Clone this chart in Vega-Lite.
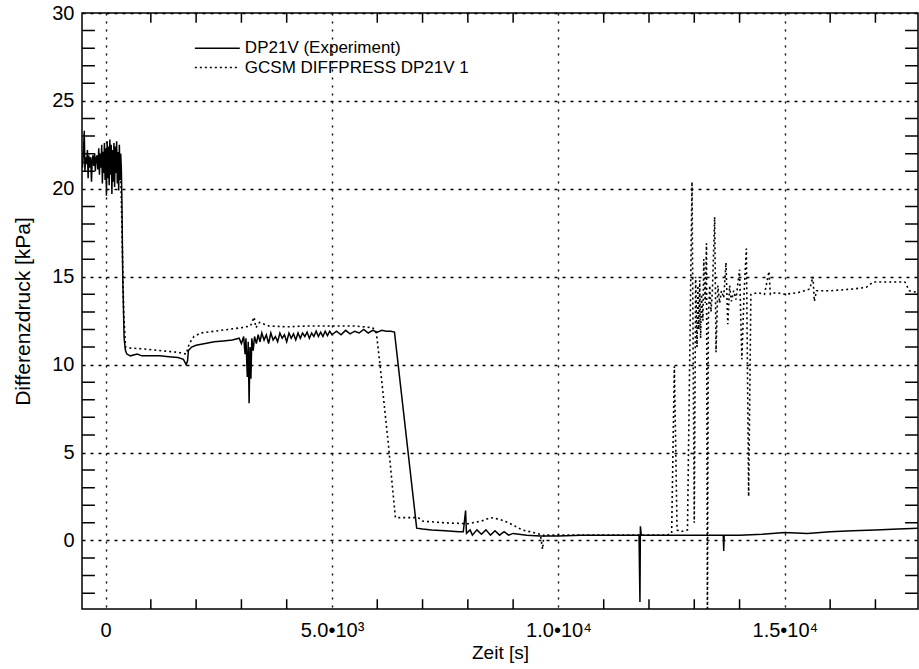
{
  "$schema": "https://vega.github.io/schema/vega-lite/v6.json",
  "width": 836,
  "height": 596,
  "autosize": {"type": "none"},
  "padding": {"left": 82, "top": 13, "right": 1, "bottom": 60},
  "background": "white",
  "config": {
    "view": {"stroke": "black", "strokeWidth": 1.5},
    "font": "Liberation Sans",
    "axis": {"labelColor": "black", "titleColor": "black", "titleFontWeight": "normal", "labelFlush": false, "labelOverlap": false, "domain": false}
  },
  "datasets": {
    "exp": [
      {"t": -510, "v": 21.2}, {"t": -490, "v": 22.0}, {"t": -470, "v": 23.3}, {"t": -455, "v": 21.0}, {"t": -440, "v": 21.8},
      {"t": -420, "v": 21.4}, {"t": -400, "v": 22.2}, {"t": -385, "v": 20.6}, {"t": -370, "v": 21.9}, {"t": -350, "v": 21.2},
      {"t": -330, "v": 21.8}, {"t": -310, "v": 20.4}, {"t": -295, "v": 21.6}, {"t": -280, "v": 21.9}, {"t": -260, "v": 21.3},
      {"t": -240, "v": 22.0}, {"t": -225, "v": 21.0}, {"t": -210, "v": 21.7}, {"t": -190, "v": 21.9}, {"t": -170, "v": 21.1},
      {"t": -150, "v": 22.3}, {"t": -135, "v": 20.8}, {"t": -120, "v": 22.0}, {"t": -100, "v": 21.2}, {"t": -85, "v": 22.5},
      {"t": -70, "v": 20.3}, {"t": -55, "v": 22.1}, {"t": -40, "v": 20.9}, {"t": -25, "v": 22.6}, {"t": -10, "v": 20.5},
      {"t": 5, "v": 22.3}, {"t": 20, "v": 19.6}, {"t": 35, "v": 22.7}, {"t": 50, "v": 20.6}, {"t": 65, "v": 22.4},
      {"t": 80, "v": 20.2}, {"t": 95, "v": 22.8}, {"t": 110, "v": 20.8}, {"t": 125, "v": 22.5}, {"t": 140, "v": 19.7},
      {"t": 155, "v": 22.2}, {"t": 170, "v": 20.4}, {"t": 185, "v": 22.6}, {"t": 200, "v": 20.1}, {"t": 215, "v": 22.4},
      {"t": 230, "v": 20.9}, {"t": 245, "v": 22.7}, {"t": 260, "v": 20.3}, {"t": 275, "v": 22.1}, {"t": 290, "v": 19.9},
      {"t": 305, "v": 22.5}, {"t": 320, "v": 20.5}, {"t": 335, "v": 22.0}, {"t": 350, "v": 21.0}, {"t": 360, "v": 19.5},
      {"t": 380, "v": 15.0}, {"t": 410, "v": 11.5}, {"t": 440, "v": 10.8}, {"t": 470, "v": 10.6}, {"t": 550, "v": 10.5},
      {"t": 700, "v": 10.6}, {"t": 800, "v": 10.5}, {"t": 1000, "v": 10.5}, {"t": 1200, "v": 10.5}, {"t": 1400, "v": 10.45},
      {"t": 1600, "v": 10.4}, {"t": 1720, "v": 10.3}, {"t": 1780, "v": 10.0}, {"t": 1810, "v": 10.2}, {"t": 1830, "v": 10.8},
      {"t": 1900, "v": 11.0}, {"t": 2000, "v": 11.1}, {"t": 2200, "v": 11.2}, {"t": 2400, "v": 11.3}, {"t": 2600, "v": 11.35},
      {"t": 2800, "v": 11.4}, {"t": 2950, "v": 11.5}, {"t": 3000, "v": 11.2}, {"t": 3050, "v": 11.6}, {"t": 3080, "v": 10.6},
      {"t": 3100, "v": 11.5}, {"t": 3130, "v": 9.3}, {"t": 3150, "v": 11.3}, {"t": 3170, "v": 7.8}, {"t": 3190, "v": 11.0},
      {"t": 3210, "v": 9.2}, {"t": 3230, "v": 11.5}, {"t": 3260, "v": 10.8}, {"t": 3290, "v": 11.6}, {"t": 3330, "v": 11.2},
      {"t": 3370, "v": 11.7}, {"t": 3410, "v": 11.3}, {"t": 3450, "v": 11.8}, {"t": 3500, "v": 11.4}, {"t": 3550, "v": 11.7},
      {"t": 3600, "v": 11.2}, {"t": 3650, "v": 11.8}, {"t": 3700, "v": 11.4}, {"t": 3750, "v": 11.6}, {"t": 3800, "v": 11.3},
      {"t": 3850, "v": 11.8}, {"t": 3900, "v": 11.5}, {"t": 3950, "v": 11.7}, {"t": 4000, "v": 11.3}, {"t": 4050, "v": 11.8},
      {"t": 4100, "v": 11.5}, {"t": 4150, "v": 11.75}, {"t": 4200, "v": 11.4}, {"t": 4250, "v": 11.8}, {"t": 4300, "v": 11.5},
      {"t": 4350, "v": 11.8}, {"t": 4400, "v": 11.6}, {"t": 4450, "v": 11.85}, {"t": 4500, "v": 11.5}, {"t": 4550, "v": 11.8},
      {"t": 4600, "v": 11.6}, {"t": 4650, "v": 11.9}, {"t": 4700, "v": 11.6}, {"t": 4750, "v": 11.85}, {"t": 4800, "v": 11.6},
      {"t": 4850, "v": 11.9}, {"t": 4900, "v": 11.65}, {"t": 4950, "v": 11.9}, {"t": 5000, "v": 11.7}, {"t": 5100, "v": 11.9},
      {"t": 5200, "v": 11.7}, {"t": 5300, "v": 11.95}, {"t": 5400, "v": 11.75}, {"t": 5500, "v": 11.9}, {"t": 5600, "v": 11.8},
      {"t": 5700, "v": 12.0}, {"t": 5800, "v": 11.8}, {"t": 5900, "v": 11.95}, {"t": 6000, "v": 11.85}, {"t": 6100, "v": 11.95},
      {"t": 6200, "v": 11.9}, {"t": 6300, "v": 11.9}, {"t": 6380, "v": 11.85}, {"t": 6870, "v": 0.7}, {"t": 7000, "v": 0.65},
      {"t": 7200, "v": 0.6}, {"t": 7500, "v": 0.55}, {"t": 7800, "v": 0.5}, {"t": 7900, "v": 0.5}, {"t": 7950, "v": 1.7},
      {"t": 7970, "v": 0.4}, {"t": 8050, "v": 0.6}, {"t": 8100, "v": 0.3}, {"t": 8200, "v": 0.6}, {"t": 8300, "v": 0.35},
      {"t": 8400, "v": 0.6}, {"t": 8500, "v": 0.3}, {"t": 8600, "v": 0.55}, {"t": 8700, "v": 0.3}, {"t": 8800, "v": 0.5},
      {"t": 8900, "v": 0.3}, {"t": 9000, "v": 0.4}, {"t": 9300, "v": 0.3}, {"t": 9600, "v": 0.25}, {"t": 10000, "v": 0.25},
      {"t": 10500, "v": 0.3}, {"t": 11000, "v": 0.3}, {"t": 11500, "v": 0.3}, {"t": 11780, "v": 0.3}, {"t": 11800, "v": -3.5},
      {"t": 11810, "v": 0.8}, {"t": 11830, "v": 0.3}, {"t": 12500, "v": 0.3}, {"t": 13000, "v": 0.3}, {"t": 13640, "v": 0.3},
      {"t": 13650, "v": -0.6}, {"t": 13660, "v": 0.3}, {"t": 14000, "v": 0.3}, {"t": 14500, "v": 0.35}, {"t": 15000, "v": 0.45},
      {"t": 15500, "v": 0.4}, {"t": 16000, "v": 0.5}, {"t": 16500, "v": 0.55}, {"t": 17000, "v": 0.6}, {"t": 17500, "v": 0.65},
      {"t": 17940, "v": 0.7}
    ],
    "sim": [
      {"t": -510, "v": 21.5}, {"t": 330, "v": 21.4}, {"t": 360, "v": 18.0}, {"t": 400, "v": 13.0}, {"t": 440, "v": 11.0},
      {"t": 500, "v": 10.95}, {"t": 800, "v": 10.9}, {"t": 1200, "v": 10.8}, {"t": 1600, "v": 10.7}, {"t": 1780, "v": 10.6},
      {"t": 1850, "v": 11.2}, {"t": 1950, "v": 11.6}, {"t": 2100, "v": 11.8}, {"t": 2400, "v": 11.9}, {"t": 2700, "v": 12.0},
      {"t": 3000, "v": 12.1}, {"t": 3200, "v": 12.2}, {"t": 3280, "v": 12.7}, {"t": 3320, "v": 12.1}, {"t": 3400, "v": 12.4},
      {"t": 3600, "v": 12.2}, {"t": 4000, "v": 12.15}, {"t": 4500, "v": 12.2}, {"t": 5000, "v": 12.2}, {"t": 5500, "v": 12.2},
      {"t": 5900, "v": 12.1}, {"t": 5980, "v": 11.8}, {"t": 6060, "v": 10.0}, {"t": 6240, "v": 5.6}, {"t": 6400, "v": 1.3},
      {"t": 6900, "v": 1.3}, {"t": 7000, "v": 1.1}, {"t": 7500, "v": 1.0}, {"t": 8000, "v": 0.95}, {"t": 8300, "v": 1.1},
      {"t": 8500, "v": 1.3}, {"t": 8700, "v": 1.2}, {"t": 8900, "v": 1.0}, {"t": 9200, "v": 0.6}, {"t": 9600, "v": 0.35},
      {"t": 9650, "v": -0.5}, {"t": 9680, "v": 0.3}, {"t": 10000, "v": 0.3}, {"t": 11000, "v": 0.3}, {"t": 12000, "v": 0.3},
      {"t": 12400, "v": 0.3}, {"t": 12500, "v": 0.4}, {"t": 12560, "v": 9.9}, {"t": 12620, "v": 0.6}, {"t": 12700, "v": 0.5},
      {"t": 12850, "v": 0.6}, {"t": 12950, "v": 20.4}, {"t": 13000, "v": 1.0}, {"t": 13030, "v": 15.0}, {"t": 13060, "v": 11.0},
      {"t": 13080, "v": 14.5}, {"t": 13100, "v": 12.0}, {"t": 13120, "v": 14.8}, {"t": 13140, "v": 11.5}, {"t": 13160, "v": 14.0},
      {"t": 13190, "v": 12.5}, {"t": 13210, "v": 16.0}, {"t": 13240, "v": 13.5}, {"t": 13270, "v": 16.9}, {"t": 13290, "v": -5.0},
      {"t": 13310, "v": 12.5}, {"t": 13340, "v": 14.5}, {"t": 13370, "v": 13.0}, {"t": 13400, "v": 14.2}, {"t": 13450, "v": 18.4},
      {"t": 13480, "v": 10.7}, {"t": 13520, "v": 14.5}, {"t": 13560, "v": 13.5}, {"t": 13600, "v": 14.2}, {"t": 13650, "v": 13.8},
      {"t": 13700, "v": 15.8}, {"t": 13740, "v": 12.3}, {"t": 13780, "v": 14.5}, {"t": 13820, "v": 13.6}, {"t": 13870, "v": 14.2},
      {"t": 13920, "v": 13.7}, {"t": 14000, "v": 15.4}, {"t": 14050, "v": 10.3}, {"t": 14100, "v": 14.1}, {"t": 14150, "v": 16.6},
      {"t": 14200, "v": 2.5}, {"t": 14250, "v": 14.0}, {"t": 14400, "v": 14.1}, {"t": 14550, "v": 14.0}, {"t": 14650, "v": 15.3},
      {"t": 14680, "v": 14.0}, {"t": 14800, "v": 14.1}, {"t": 15000, "v": 14.0}, {"t": 15300, "v": 14.1}, {"t": 15550, "v": 14.3},
      {"t": 15620, "v": 15.0}, {"t": 15650, "v": 13.6}, {"t": 15700, "v": 14.2}, {"t": 16000, "v": 14.2}, {"t": 16500, "v": 14.3},
      {"t": 16800, "v": 14.4}, {"t": 16950, "v": 14.7}, {"t": 17650, "v": 14.7}, {"t": 17750, "v": 14.2}, {"t": 17940, "v": 14.1}
    ],
    "segs": [
      {"t1": 1972, "t2": 2965, "v": 28.0, "v2": 28.0, "s": "exp"},
      {"t1": 1972, "t2": 2965, "v": 26.9, "v2": 26.9, "s": "sim"},
      {"t1": 1000, "t2": 1000, "v": -3.9, "v2": -3.35, "s": "exp"}, {"t1": 2000, "t2": 2000, "v": -3.9, "v2": -3.35, "s": "exp"},
      {"t1": 3000, "t2": 3000, "v": -3.9, "v2": -3.35, "s": "exp"}, {"t1": 4000, "t2": 4000, "v": -3.9, "v2": -3.35, "s": "exp"},
      {"t1": 6000, "t2": 6000, "v": -3.9, "v2": -3.35, "s": "exp"}, {"t1": 7000, "t2": 7000, "v": -3.9, "v2": -3.35, "s": "exp"},
      {"t1": 8000, "t2": 8000, "v": -3.9, "v2": -3.35, "s": "exp"}, {"t1": 9000, "t2": 9000, "v": -3.9, "v2": -3.35, "s": "exp"},
      {"t1": 11000, "t2": 11000, "v": -3.9, "v2": -3.35, "s": "exp"}, {"t1": 12000, "t2": 12000, "v": -3.9, "v2": -3.35, "s": "exp"},
      {"t1": 13000, "t2": 13000, "v": -3.9, "v2": -3.35, "s": "exp"}, {"t1": 14000, "t2": 14000, "v": -3.9, "v2": -3.35, "s": "exp"},
      {"t1": 16000, "t2": 16000, "v": -3.9, "v2": -3.35, "s": "exp"}, {"t1": 17000, "t2": 17000, "v": -3.9, "v2": -3.35, "s": "exp"},
      {"t1": 1000, "t2": 1000, "v": 30, "v2": 29.45, "s": "exp"}, {"t1": 2000, "t2": 2000, "v": 30, "v2": 29.45, "s": "exp"},
      {"t1": 3000, "t2": 3000, "v": 30, "v2": 29.45, "s": "exp"}, {"t1": 4000, "t2": 4000, "v": 30, "v2": 29.45, "s": "exp"},
      {"t1": 6000, "t2": 6000, "v": 30, "v2": 29.45, "s": "exp"}, {"t1": 7000, "t2": 7000, "v": 30, "v2": 29.45, "s": "exp"},
      {"t1": 8000, "t2": 8000, "v": 30, "v2": 29.45, "s": "exp"}, {"t1": 9000, "t2": 9000, "v": 30, "v2": 29.45, "s": "exp"},
      {"t1": 11000, "t2": 11000, "v": 30, "v2": 29.45, "s": "exp"}, {"t1": 12000, "t2": 12000, "v": 30, "v2": 29.45, "s": "exp"},
      {"t1": 13000, "t2": 13000, "v": 30, "v2": 29.45, "s": "exp"}, {"t1": 14000, "t2": 14000, "v": 30, "v2": 29.45, "s": "exp"},
      {"t1": 16000, "t2": 16000, "v": 30, "v2": 29.45, "s": "exp"}, {"t1": 17000, "t2": 17000, "v": 30, "v2": 29.45, "s": "exp"},
      {"t1": -520, "t2": -235, "v": -3, "v2": -3, "s": "exp"}, {"t1": -520, "t2": -235, "v": -2, "v2": -2, "s": "exp"},
      {"t1": -520, "t2": -235, "v": -1, "v2": -1, "s": "exp"}, {"t1": -520, "t2": -235, "v": 1, "v2": 1, "s": "exp"},
      {"t1": -520, "t2": -235, "v": 2, "v2": 2, "s": "exp"}, {"t1": -520, "t2": -235, "v": 3, "v2": 3, "s": "exp"},
      {"t1": -520, "t2": -235, "v": 4, "v2": 4, "s": "exp"}, {"t1": -520, "t2": -235, "v": 6, "v2": 6, "s": "exp"},
      {"t1": -520, "t2": -235, "v": 7, "v2": 7, "s": "exp"}, {"t1": -520, "t2": -235, "v": 8, "v2": 8, "s": "exp"},
      {"t1": -520, "t2": -235, "v": 9, "v2": 9, "s": "exp"}, {"t1": -520, "t2": -235, "v": 11, "v2": 11, "s": "exp"},
      {"t1": -520, "t2": -235, "v": 12, "v2": 12, "s": "exp"}, {"t1": -520, "t2": -235, "v": 13, "v2": 13, "s": "exp"},
      {"t1": -520, "t2": -235, "v": 14, "v2": 14, "s": "exp"}, {"t1": -520, "t2": -235, "v": 16, "v2": 16, "s": "exp"},
      {"t1": -520, "t2": -235, "v": 17, "v2": 17, "s": "exp"}, {"t1": -520, "t2": -235, "v": 18, "v2": 18, "s": "exp"},
      {"t1": -520, "t2": -235, "v": 19, "v2": 19, "s": "exp"}, {"t1": -520, "t2": -235, "v": 21, "v2": 21, "s": "exp"},
      {"t1": -520, "t2": -235, "v": 22, "v2": 22, "s": "exp"}, {"t1": -520, "t2": -235, "v": 23, "v2": 23, "s": "exp"},
      {"t1": -520, "t2": -235, "v": 24, "v2": 24, "s": "exp"}, {"t1": -520, "t2": -235, "v": 26, "v2": 26, "s": "exp"},
      {"t1": -520, "t2": -235, "v": 27, "v2": 27, "s": "exp"}, {"t1": -520, "t2": -235, "v": 28, "v2": 28, "s": "exp"},
      {"t1": -520, "t2": -235, "v": 29, "v2": 29, "s": "exp"},
      {"t1": 17655, "t2": 17940, "v": -3, "v2": -3, "s": "exp"}, {"t1": 17655, "t2": 17940, "v": -2, "v2": -2, "s": "exp"},
      {"t1": 17655, "t2": 17940, "v": -1, "v2": -1, "s": "exp"}, {"t1": 17655, "t2": 17940, "v": 1, "v2": 1, "s": "exp"},
      {"t1": 17655, "t2": 17940, "v": 2, "v2": 2, "s": "exp"}, {"t1": 17655, "t2": 17940, "v": 3, "v2": 3, "s": "exp"},
      {"t1": 17655, "t2": 17940, "v": 4, "v2": 4, "s": "exp"}, {"t1": 17655, "t2": 17940, "v": 6, "v2": 6, "s": "exp"},
      {"t1": 17655, "t2": 17940, "v": 7, "v2": 7, "s": "exp"}, {"t1": 17655, "t2": 17940, "v": 8, "v2": 8, "s": "exp"},
      {"t1": 17655, "t2": 17940, "v": 9, "v2": 9, "s": "exp"}, {"t1": 17655, "t2": 17940, "v": 11, "v2": 11, "s": "exp"},
      {"t1": 17655, "t2": 17940, "v": 12, "v2": 12, "s": "exp"}, {"t1": 17655, "t2": 17940, "v": 13, "v2": 13, "s": "exp"},
      {"t1": 17655, "t2": 17940, "v": 14, "v2": 14, "s": "exp"}, {"t1": 17655, "t2": 17940, "v": 16, "v2": 16, "s": "exp"},
      {"t1": 17655, "t2": 17940, "v": 17, "v2": 17, "s": "exp"}, {"t1": 17655, "t2": 17940, "v": 18, "v2": 18, "s": "exp"},
      {"t1": 17655, "t2": 17940, "v": 19, "v2": 19, "s": "exp"}, {"t1": 17655, "t2": 17940, "v": 21, "v2": 21, "s": "exp"},
      {"t1": 17655, "t2": 17940, "v": 22, "v2": 22, "s": "exp"}, {"t1": 17655, "t2": 17940, "v": 23, "v2": 23, "s": "exp"},
      {"t1": 17655, "t2": 17940, "v": 24, "v2": 24, "s": "exp"}, {"t1": 17655, "t2": 17940, "v": 26, "v2": 26, "s": "exp"},
      {"t1": 17655, "t2": 17940, "v": 27, "v2": 27, "s": "exp"}, {"t1": 17655, "t2": 17940, "v": 28, "v2": 28, "s": "exp"},
      {"t1": 17655, "t2": 17940, "v": 29, "v2": 29, "s": "exp"}
    ],
    "legendText": [
      {"t": 3076, "v": 28.0, "label": "DP21V (Experiment)"},
      {"t": 3076, "v": 26.9, "label": "GCSM DIFFPRESS DP21V 1"}
    ]
  },
  "layer": [
    {
      "data": {"name": "exp"},
      "mark": {"type": "line", "color": "black", "strokeWidth": 1.5, "clip": true},
      "encoding": {
        "x": {"field": "t", "type": "quantitative", "scale": {"domain": [-520, 17940], "nice": false, "zero": false},
          "axis": {"orient": "bottom", "values": [0, 5000, 10000, 15000],
            "labelExpr": "datum.value == 0 ? '0' : datum.value == 5000 ? '5.0•10³' : datum.value == 10000 ? '1.0•10⁴' : '1.5•10⁴'",
            "labelFontSize": 20, "labelPadding": 11, "ticks": false, "grid": true, "gridColor": "black", "gridOpacity": 1,
            "gridDash": [2, 6], "gridWidth": 1.4, "title": "Zeit [s]", "titleFontSize": 19, "titlePadding": 3}},
        "y": {"field": "v", "type": "quantitative", "scale": {"domain": [-3.9, 30], "nice": false, "zero": false},
          "axis": {"orient": "left", "values": [0, 5, 10, 15, 20, 25, 30], "labelFontSize": 20, "labelPadding": 8,
            "ticks": false, "grid": true, "gridColor": "black", "gridOpacity": 1, "gridDash": [3, 5], "gridWidth": 1.4,
            "title": "Differenzdruck [kPa]", "titleFontSize": 21, "titlePadding": 18}}
      }
    },
    {
      "data": {"name": "sim"},
      "mark": {"type": "line", "color": "black", "strokeWidth": 1.6, "strokeDash": [2, 3], "clip": true},
      "encoding": {
        "x": {"field": "t", "type": "quantitative"},
        "y": {"field": "v", "type": "quantitative"}
      }
    },
    {
      "data": {"name": "segs"},
      "mark": {"type": "rule", "color": "black", "strokeWidth": 1.5},
      "encoding": {
        "x": {"field": "t1", "type": "quantitative"},
        "x2": {"field": "t2"},
        "y": {"field": "v", "type": "quantitative"},
        "y2": {"field": "v2"},
        "strokeDash": {"field": "s", "type": "nominal", "scale": {"domain": ["exp", "sim"], "range": [[1, 0], [2, 3]]}, "legend": null}
      }
    },
    {
      "data": {"name": "legendText"},
      "mark": {"type": "text", "align": "left", "baseline": "middle", "fontSize": 17, "color": "black", "font": "Liberation Sans"},
      "encoding": {
        "x": {"field": "t", "type": "quantitative"},
        "y": {"field": "v", "type": "quantitative"},
        "text": {"field": "label"}
      }
    }
  ]
}
